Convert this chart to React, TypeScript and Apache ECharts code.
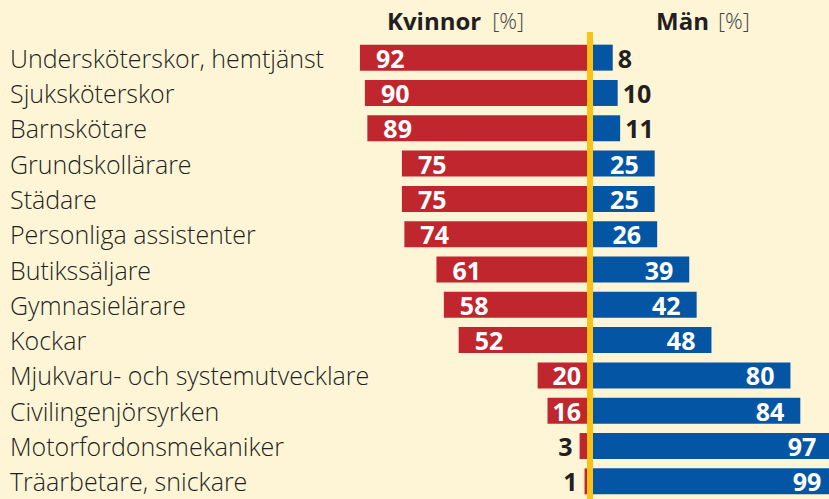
import React, { useEffect, useRef } from "react";
import * as echarts from "echarts";

const categories = [
  "Undersköterskor, hemtjänst",
  "Sjuksköterskor",
  "Barnskötare",
  "Grundskollärare",
  "Städare",
  "Personliga assistenter",
  "Butikssäljare",
  "Gymnasielärare",
  "Kockar",
  "Mjukvaru- och systemutvecklare",
  "Civilingenjörsyrken",
  "Motorfordonsmekaniker",
  "Träarbetare, snickare",
];
const women = [92, 90, 89, 75, 75, 74, 61, 58, 52, 20, 16, 3, 1];
const men = [8, 10, 11, 25, 25, 26, 39, 42, 48, 80, 84, 97, 99];

const RED = "#c0262e";
const BLUE = "#0456a5";
const YELLOW = "#fbc216";
const BG = "#fef5d7";
const NUM_FONT = "Open Sans";

const PX_PER_UNIT = 2.468;
const CENTER_L = 587;
const CENTER_R = 593;
const W = 829;
const H = 499;

export default function App() {
  const ref = useRef<HTMLDivElement>(null);
  useEffect(() => {
    if (!ref.current) return;
    const chart = echarts.init(ref.current, undefined, { renderer: "svg" });
    const numStyle = {
      fontFamily: NUM_FONT,
      fontWeight: "bold" as const,
      fontSize: 25,
    };
    const womenData = women.map((v) => {
      let label: any;
      if (v >= 40) {
        label = { show: true, position: "insideLeft", distance: 16, color: "#fff", ...numStyle };
      } else if (v >= 10) {
        label = { show: true, position: "insideRight", distance: 6, color: "#fff", ...numStyle };
      } else {
        label = { show: true, position: "left", distance: 7, color: "#231f20", ...numStyle };
      }
      return { value: v, label };
    });
    const menData = men.map((v) => {
      let label: any;
      if (v >= 20) {
        label = { show: true, position: "insideRight", distance: 16, color: "#fff", ...numStyle };
      } else {
        label = { show: true, position: "right", distance: 5, color: "#231f20", ...numStyle };
      }
      return { value: v, label };
    });
    const leftMax = CENTER_L / PX_PER_UNIT;
    const rightWidth = W - CENTER_R;
    const rightMax = rightWidth / PX_PER_UNIT;
    const hiddenCat = {
      type: "category",
      data: categories,
      inverse: true,
      axisLine: { show: false },
      axisTick: { show: false },
      splitLine: { show: false },
      axisLabel: { show: false },
    };
    chart.setOption({
      animation: false,
      backgroundColor: BG,
      grid: [
        { left: 0, top: 40, width: CENTER_L, height: 459 },
        { left: CENTER_R, top: 40, width: rightWidth, height: 459 },
      ],
      xAxis: [
        { gridIndex: 0, type: "value", inverse: true, min: 0, max: leftMax, show: false },
        { gridIndex: 1, type: "value", min: 0, max: rightMax, show: false },
      ],
      yAxis: [
        { ...hiddenCat, gridIndex: 0, position: "right" },
        { ...hiddenCat, gridIndex: 1 },
        {
          gridIndex: 0,
          type: "category",
          data: categories,
          inverse: true,
          position: "left",
          offset: 0,
          axisLine: { show: false },
          axisTick: { show: false },
          splitLine: { show: false },
          axisLabel: {
            show: true,
            inside: true,
            margin: 10,
            align: "left",
            color: "#231f20",
            fontFamily: "Open Sans",
            fontWeight: 300,
            fontSize: 25,
          },
        },
      ],
      series: [
        {
          type: "bar",
          xAxisIndex: 0,
          yAxisIndex: 0,
          data: womenData,
          barWidth: 26,
          clip: false,
          itemStyle: { color: RED },
        },
        {
          type: "bar",
          xAxisIndex: 1,
          yAxisIndex: 1,
          data: menData,
          barWidth: 26,
          clip: false,
          itemStyle: { color: BLUE },
        },
      ],
      graphic: [
        {
          type: "rect",
          shape: { x: CENTER_L, y: 32, width: CENTER_R - CENTER_L, height: H - 32 },
          style: { fill: YELLOW },
          z: 100,
        },
        {
          type: "text",
          x: 387,
          y: 20,
          style: {
            text: "{b|Kvinnor}{n|[%]}",
            verticalAlign: "middle",
            rich: {
              b: { fontFamily: NUM_FONT, fontWeight: "bold", fontSize: 24, fill: "#231f20" },
              n: { fontFamily: "Open Sans", fontWeight: 300, fontSize: 22, fill: "#444", padding: [0, 0, 0, 11] },
            },
          },
        },
        {
          type: "text",
          x: 656,
          y: 20,
          style: {
            text: "{b|Män}{n|[%]}",
            verticalAlign: "middle",
            rich: {
              b: { fontFamily: NUM_FONT, fontWeight: "bold", fontSize: 24, fill: "#231f20" },
              n: { fontFamily: "Open Sans", fontWeight: 300, fontSize: 22, fill: "#444", padding: [0, 0, 0, 9] },
            },
          },
        },
      ],
    });
    return () => chart.dispose();
  }, []);
  return (
    <div
      ref={ref}
      style={{ position: "fixed", left: 0, top: 0, width: W, height: H, background: BG }}
    />
  );
}
